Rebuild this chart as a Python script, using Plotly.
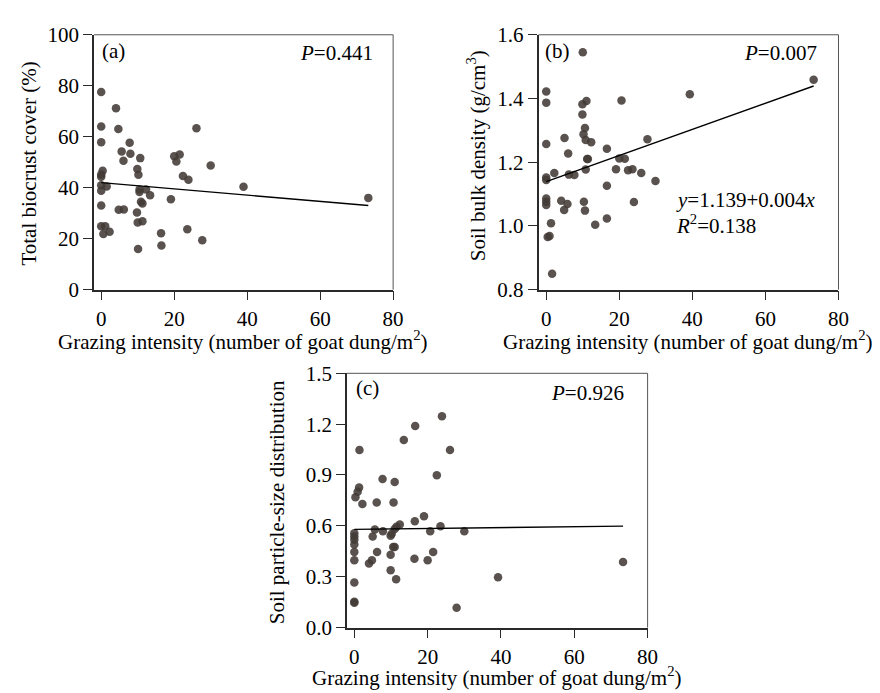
import plotly.graph_objects as go

# ---------------- data ----------------
# Panel (a): grazing intensity vs total biocrust cover (%)
a_x = [0, 0, 0, 4.05, 4.7, 7.8, 5.6, 8.0, 6.1, 10.7, 20.0, 21.5, 20.6, 26.1, 30.0,
       9.9, 10.2, 0.4, 0, 0, 22.4, 23.9, 39.0, 0, 1.5, 0, 10.5, 12.3, 10.5, 13.4,
       19.1, 10.9, 11.3, 73.2, 0, 4.8, 6.2, 9.8, 10.0, 11.3, 0, 1.1, 0.6, 2.3,
       16.4, 23.6, 27.7, 16.5, 10.1]
a_y = [77.5, 64.0, 57.8, 71.2, 63.0, 57.6, 54.2, 53.3, 50.6, 51.6, 52.3, 53.0, 50.3, 63.3, 48.7,
       47.3, 45.1, 46.6, 45.2, 44.3, 44.6, 43.1, 40.4, 41.0, 40.5, 38.8, 39.3, 39.3, 38.3, 37.0,
       35.5, 34.5, 33.8, 36.0, 33.0, 31.3, 31.4, 30.3, 26.3, 26.8, 24.9, 24.9, 21.8, 22.7,
       22.1, 23.7, 19.4, 17.3, 15.9]
a_fit = (42.0, -0.123)          # intercept, slope

# Panel (b): grazing intensity vs soil bulk density (g/cm3)
b_x = [0, 0, 10.0, 9.9, 11.0, 9.9, 20.6, 39.3, 73.2, 0, 5.0, 10.6, 10.2, 10.8, 12.3,
       16.6, 27.7, 6.0, 11.2, 11.4, 20.0, 21.5, 2.2, 0, 0, 6.2, 7.7, 10.8, 19.1, 22.4,
       23.6, 26.0, 29.9, 16.6, 0, 0, 0, 4.1, 5.8, 4.9, 10.3, 10.6, 24.0, 1.3, 13.4,
       16.6, 0.4, 0.9, 1.6]
b_y = [1.422, 1.387, 1.545, 1.382, 1.392, 1.350, 1.394, 1.413, 1.459, 1.257, 1.276, 1.307,
       1.288, 1.270, 1.263, 1.242, 1.272, 1.227, 1.210, 1.210, 1.212, 1.211, 1.166, 1.152,
       1.144, 1.161, 1.160, 1.177, 1.178, 1.175, 1.178, 1.166, 1.141, 1.126, 1.086, 1.076,
       1.066, 1.079, 1.069, 1.050, 1.076, 1.048, 1.075, 1.008, 1.004, 1.023, 0.965, 0.968,
       0.850]
b_fit = (1.139, 0.0041)

# Panel (c): grazing intensity vs soil particle-size distribution
c_x = [23.9, 16.6, 13.5, 26.1, 1.4, 22.5, 7.7, 11.0, 1.3, 0.9, 0.3, 2.2, 6.1, 10.7, 19.0,
       16.5, 12.4, 11.5, 11.0, 23.5, 20.7, 30.0, 5.6, 7.8, 0, 0, 0, 5.0, 9.9, 10.2, 0,
       10.6, 11.0, 9.9, 0, 6.2, 21.5, 16.4, 20.0, 0, 4.8, 4.0, 73.3, 9.9, 11.4, 39.2,
       0, 0, 0, 27.9]
c_y = [1.247, 1.189, 1.107, 1.048, 1.048, 0.898, 0.877, 0.858, 0.826, 0.801, 0.769, 0.729,
       0.737, 0.737, 0.657, 0.627, 0.608, 0.594, 0.581, 0.598, 0.568, 0.568, 0.579, 0.568,
       0.556, 0.537, 0.518, 0.537, 0.541, 0.553, 0.490, 0.475, 0.475, 0.429, 0.446, 0.446,
       0.446, 0.406, 0.397, 0.397, 0.397, 0.378, 0.387, 0.338, 0.285, 0.296, 0.266, 0.152,
       0.146, 0.116]
c_fit = (0.579, 0.00026)

x_ticks = [0, 20, 40, 60, 80]
a_yticks = [0, 20, 40, 60, 80, 100]
b_yticks = [0.8, 1.0, 1.2, 1.4, 1.6]
c_yticks = [0.0, 0.3, 0.6, 0.9, 1.2, 1.5]

x_title = "Grazing intensity (number of goat dung/m<sup>2</sup>)"
a_ytitle = "Total biocrust cover (%)"
b_ytitle = "Soil bulk density (g/cm<sup>3</sup>)"
c_ytitle = "Soil particle-size distribution"

# ---------------- layout helpers ----------------
W, H = 880, 693
FONT = "Liberation Serif, Times New Roman, serif"
FS = 21
DOT = "rgba(66,58,54,0.88)"


def px(x):
    return x / W


def py(y):
    return 1 - y / H


fig = go.Figure()

panels = [
    (a_x, a_y, a_fit, "x", "y", (87, 390), (15.3, 279.3), [-2, 80], [0, 100], a_yticks, "d"),
    (b_x, b_y, b_fit, "x2", "y2", (537.3, 841), (15.3, 279.3), [-2.1, 80], [0.8, 1.6], b_yticks, ".1f"),
    (c_x, c_y, c_fit, "x3", "y3", (343.3, 647.7), (366, 629.3), [-2, 80], [0, 1.5], c_yticks, ".1f"),
]

shapes = []
for i, (xs, ys, fit, xa, ya, xd, yd, xr, yr, yt, fmt) in enumerate(panels):
    fig.add_trace(go.Scatter(
        x=xs, y=ys, mode="markers", xaxis=xa, yaxis=ya,
        marker=dict(size=8.5, color=DOT, line=dict(width=0)),
        showlegend=False, hoverinfo="skip"))
    x0, x1 = min(xs), max(xs)
    fig.add_trace(go.Scatter(
        x=[x0, x1], y=[fit[0] + fit[1] * x0, fit[0] + fit[1] * x1],
        mode="lines", xaxis=xa, yaxis=ya,
        line=dict(color="black", width=1.4), showlegend=False, hoverinfo="skip"))

    sfx = "" if i == 0 else str(i + 1)
    common = dict(showgrid=False, zeroline=False, showline=True, linecolor="#2a2a2a",
                  linewidth=1.6, ticks="outside", ticklen=9, tickwidth=1.3,
                  tickcolor="#2a2a2a", tickfont=dict(family=FONT, size=FS, color="black"))
    fig.layout["xaxis" + sfx] = dict(
        domain=[px(xd[0]), px(xd[1])], range=xr, tickvals=x_ticks,
        anchor=ya, **common)
    fig.layout["yaxis" + sfx] = dict(
        domain=[py(yd[1]), py(yd[0])], range=yr, tickvals=yt, tickformat=fmt,
        anchor=xa, **common)
    shapes.append(dict(type="line", xref="paper", yref="paper",
                       x0=px(xd[0]), x1=px(xd[1]), y0=py(yd[0]), y1=py(yd[0]),
                       line=dict(color="#555555", width=1)))
    shapes.append(dict(type="line", xref="paper", yref="paper",
                       x0=px(xd[1]), x1=px(xd[1]), y0=py(yd[0]), y1=py(yd[1]),
                       line=dict(color="#555555", width=1)))

fig.update_layout(shapes=shapes)


def ann(text, x, y, xanchor="center", angle=0):
    return dict(text=text, x=px(x), y=py(y), xref="paper", yref="paper",
                xanchor=xanchor, yanchor="middle", showarrow=False, textangle=angle,
                borderpad=0,
                font=dict(family=FONT, size=FS, color="black"))


annotations = [
    ann("(a)", 94, 32, "left"),
    ann("<i>P</i>=0.441", 371, 34, "right"),
    ann("(b)", 543, 32, "left"),
    ann("<i>P</i>=0.007", 820, 34, "right"),
    ann("<i>y</i>=1.139+0.004<i>x</i>", 675, 186, "left"),
    ann("<i>R</i><sup>2</sup>=0.138", 675, 212, "left"),
    ann("(c)", 351, 381, "left"),
    ann("<i>P</i>=0.926", 625, 386, "right"),
    # axis titles
    ann(x_title, 238, 332),
    ann(x_title, 689, 332),
    ann(x_title, 495, 680),
    ann(a_ytitle, 21, 149, angle=-90),
    ann(b_ytitle, 474, 141, angle=-90),
    ann(c_ytitle, 272, 500, angle=-90),
]

fig.update_layout(
    width=W, height=H, margin=dict(l=0, r=0, t=0, b=0),
    paper_bgcolor="white", plot_bgcolor="white",
    annotations=annotations,
    font=dict(family=FONT, size=FS, color="black"),
)

fig.write_html("out.html")
